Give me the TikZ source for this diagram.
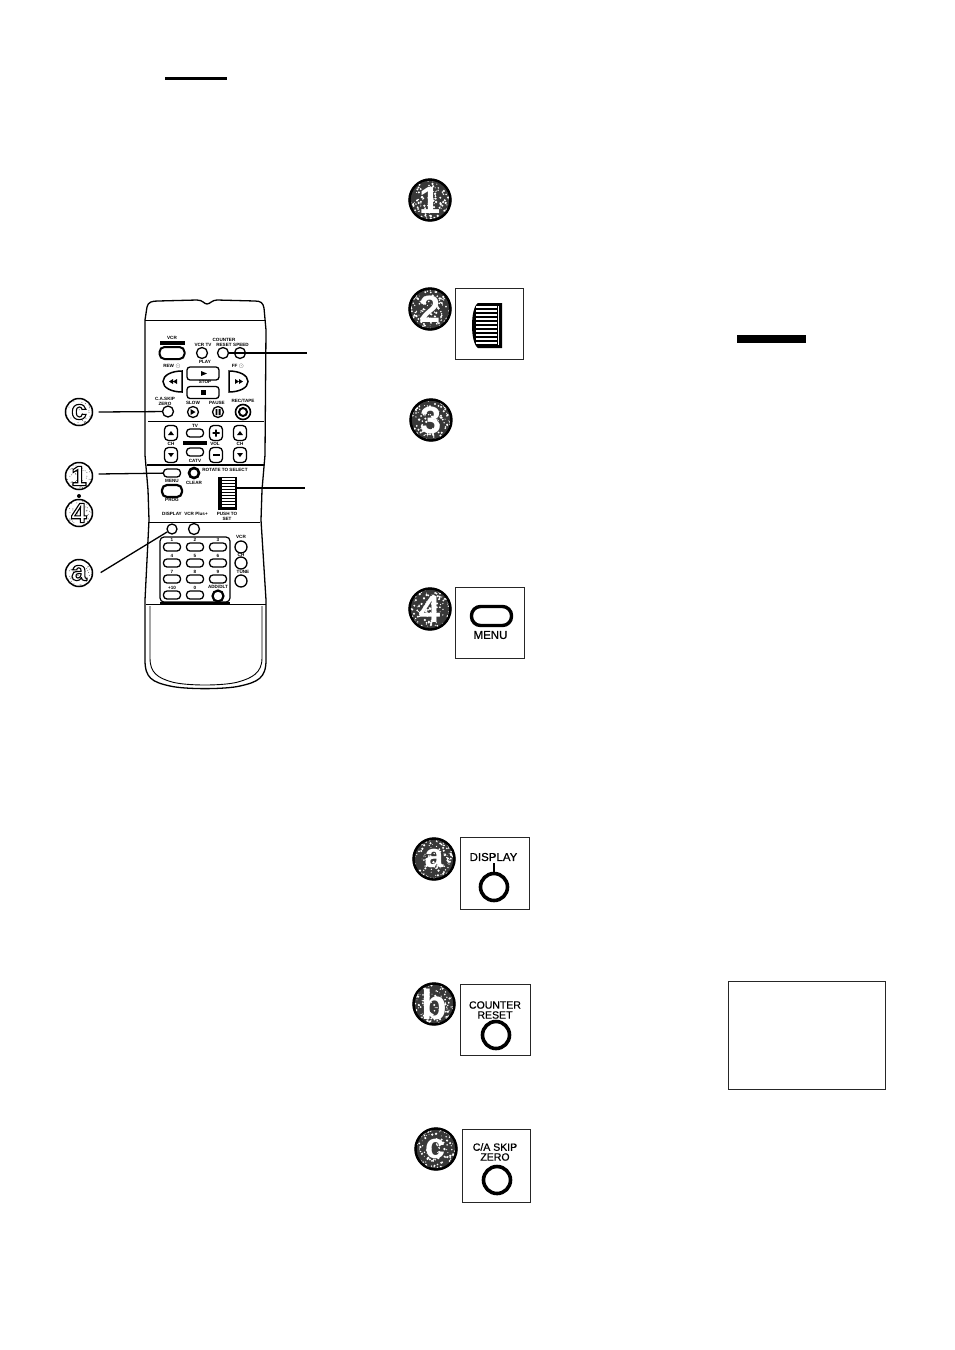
\documentclass[tikz,border=0pt]{standalone}
\usepackage{fontspec}
\setmainfont{Liberation Sans}
\newfontfamily\boxfont[FakeBold=0.7]{Liberation Sans}
\usetikzlibrary{calc}
\tikzset{
	roundbtn/.style={draw, circle, line width=1.3pt, inner sep=0pt, minimum size=11pt, fill=white},
	pillbtn/.style={draw, rectangle, rounded corners=3.5pt, line width=1.3pt, inner sep=0pt, minimum width=17pt, minimum height=8pt, fill=white},
	shieldbtn/.style={draw, rectangle, rounded corners=4pt, line width=1.3pt, inner sep=0pt, minimum width=13pt, minimum height=15pt, fill=white},
	tinylabel/.style={inner sep=0pt, font=\fontsize{4.6}{5}\selectfont\bfseries},
	boxlabel/.style={inner sep=0pt, font=\boxfont\fontsize{10.5}{10}\selectfont, align=center},
	panelbox/.style={draw=black!85, line width=1pt},
	bigring/.style={draw, circle, line width=3.6pt, inner sep=0pt, minimum size=27pt},
	pointer/.style={line width=1.3pt}
}
\def\outlined#1{\special{pdf:code q 2 Tr 1.1 w 0 G 1 g}#1\special{pdf:code Q}}
\def\darkbadge(#1,#2)#3#4{
	\begin{scope}
		\clip (#1,#2) circle (21.5);
		\fill[black!78] (#1,#2) circle (21.5);
		\foreach \i in {1,...,170} \fill[white] ({#1+43*rnd-21.5},{#2+43*rnd-21.5}) circle ({0.4+0.9*rnd});
	\end{scope}
	\draw[line width=2.4pt] (#1,#2) circle (20.5);
	\node[inner sep=0pt, text=white, font=\fontsize{#4}{#4}\selectfont\bfseries] at (#1,#2) {#3};
}
\def\lightbadge(#1,#2)#3{
	\fill[white] (#1,#2) circle (13.5);
	\begin{scope}
		\clip (#1,#2) circle (13.5);
		\foreach \i in {1,...,60} \fill[black!60] ({#1+27*rnd-13.5},{#2+27*rnd-13.5}) circle (0.5);
	\end{scope}
	\draw[line width=1.5pt] (#1,#2) circle (13.5);
	\node[inner sep=0pt, font=\fontsize{28}{28}\selectfont\bfseries] at (#1,#2) {\outlined{#3}};
}
\begin{document}
\begin{tikzpicture}[x=1pt,y=-1pt]
	%%%%% START %%%%%
	\useasboundingbox (0,0) rectangle (954,1350);
	\pgfmathsetseed{4711}

	\fill (165,77) rectangle (227,79.5);
	\fill (737,335) rectangle (806,343);
	\draw[panelbox] (728.5,981.5) rectangle (885.5,1089.5);

	% remote body
	\draw[line width=1.3pt] (145,320) -- (147,307) .. controls (148,302) and (152,301) .. (158,301) -- (197,300) .. controls (203,300) and (204,304) .. (207,304) .. controls (210,304) and (212,300) .. (217,300) -- (255,301) .. controls (261,301) and (263,303) .. (264,308) -- (266,330) -- (265,455) -- (262,490) -- (261,520) -- (266,600) -- (266,660) .. controls (266,678) and (258,682) .. (240,686) .. controls (225,689.5) and (185,689.5) .. (170,686) .. controls (152,682) and (145,678) .. (145,660) -- (145,600) -- (149,520) -- (148,490) -- (145,455) -- cycle;
	\draw[line width=0.9pt] (150,606) -- (150,658) .. controls (150,673) and (158,678) .. (172,682) .. controls (187,686) and (223,686) .. (238,682) .. controls (252,678) and (262,673) .. (262,658) -- (262,606);
	\draw[line width=0.8pt] (145,320) -- (266,320);
	\draw[line width=1.8pt] (148,421.5) -- (264,421.5);
	\draw[line width=1.3pt] (147,465) -- (264,465);
	\draw[line width=1pt] (149,522) -- (260,522);
	\draw[line width=0.9pt] (146,604) -- (266,604);
	\draw[line width=2pt] (160,603) -- (230,603);

	% top section
	\node[tinylabel] (vcrlabel) at (172,338) {VCR};
	\fill (160,341) rectangle (185,344.5);
	\node[pillbtn, minimum width=25pt, minimum height=12pt, rounded corners=5pt, line width=2pt] (vcrbtn) at (172,353) {};
	\node[tinylabel] (vcrtvlabel) at (203,345) {VCR TV};
	\node[tinylabel] (counterlabel) at (224,340) {COUNTER};
	\node[tinylabel] (resetlabel) at (224,345) {RESET};
	\node[tinylabel] (speedlabel) at (241,345) {SPEED};
	\node[roundbtn] (vcrtvbtn) at (202,353) {};
	\node[roundbtn] (resetbtn) at (223,353) {};
	\node[roundbtn] (speedbtn) at (240,353) {};
	\node[tinylabel] (playlabel) at (205,362) {PLAY};
	\node[pillbtn, minimum width=32pt, minimum height=13pt, rounded corners=3pt] (playbtn) at (203,373.5) {};
	\node[tinylabel] (stoplabel) at (205,382) {STOP};
	\node[pillbtn, minimum width=32pt, minimum height=12pt, rounded corners=3pt] (stopbtn) at (203,392.5) {};
	\fill (201,371) -- (207,373.5) -- (201,376) -- cycle;
	\fill (201,390) rectangle (206,395);
	\node[tinylabel] (rewlabel) at (172,366.5) {REW $\odot$};
	\node[tinylabel] (fflabel) at (238,366.5) {FF $\odot$};
	\draw[line width=1.5pt] (182,371) .. controls (172,371) and (163,375) .. (163,381.5) .. controls (163,388) and (172,392) .. (182,392) -- cycle;
	\draw[line width=1.5pt] (229,371) .. controls (239,371) and (248,375) .. (248,381.5) .. controls (248,388) and (239,392) .. (229,392) -- cycle;
	\fill (169,381.5) -- (173,379) -- (173,384) -- cycle (173,381.5) -- (177,379) -- (177,384) -- cycle;
	\fill (235,379) -- (239,381.5) -- (235,384) -- cycle (239,379) -- (243,381.5) -- (239,384) -- cycle;

	\node[tinylabel] (skiplabel) at (165,399) {C.A.SKIP};
	\node[tinylabel] (zerolabel) at (165,403.5) {ZERO};
	\node[tinylabel] (slowlabel) at (193,403) {SLOW};
	\node[tinylabel] (pauselabel) at (217,403) {PAUSE};
	\node[tinylabel] (reclabel) at (243,401) {REC/TAPE};
	\node[roundbtn] (skipbtn) at (168,411.5) {};
	\node[roundbtn] (slowbtn) at (193,412) {};
	\node[roundbtn] (pausebtn) at (218,412) {};
	\node[roundbtn, minimum size=15pt, line width=1.6pt] (recbtn) at (243,412) {};
	\draw[line width=2pt] (recbtn) circle (4);
	\fill (190.5,409) -- (195.5,412) -- (190.5,415) -- cycle;
	\fill (215.5,409) rectangle (217.3,415) (218.7,409) rectangle (220.5,415);

	% tv section
	\node[tinylabel] (tvlabel) at (195,426) {TV};
	\node[shieldbtn] (chupa) at (171,433) {};
	\node[pillbtn] (tvbtn) at (195,433) {};
	\node[shieldbtn] (volup) at (216,433) {};
	\node[shieldbtn] (chupb) at (240,433) {};
	\node[tinylabel] (chlabela) at (171,444) {CH};
	\node[tinylabel] (vollabel) at (215,444) {VOL};
	\node[tinylabel] (chlabelb) at (240,444) {CH};
	\fill (183,441) rectangle (207,445);
	\node[shieldbtn] (chdowna) at (171,455) {};
	\node[pillbtn] (catvbtn) at (195,452) {};
	\node[shieldbtn] (voldown) at (216,455) {};
	\node[shieldbtn] (chdownb) at (240,455) {};
	\node[tinylabel] (catvlabel) at (195,461) {CATV};
	\foreach \xa in {171,240} {
		\fill ({\xa-3},435) -- ({\xa+3},435) -- (\xa,431) -- cycle;
		\fill ({\xa-3},453) -- ({\xa+3},453) -- (\xa,457) -- cycle;
	}
	\fill (212.5,432.2) rectangle (219.5,433.8) (215.2,429.5) rectangle (216.8,436.5);
	\fill (212.5,454.2) rectangle (219.5,455.8);

	% menu section
	\node[pillbtn] (menubtn) at (172,473) {};
	\node[tinylabel] (menulabel) at (172,481) {MENU};
	\node[pillbtn, minimum width=20pt, minimum height=12pt, rounded corners=5pt, line width=2.2pt] (progbtn) at (172,491) {};
	\node[tinylabel] (proglabel) at (172,500) {PROG};
	\node[roundbtn, minimum size=10pt, line width=2.6pt] (clearbtn) at (194,473) {};
	\node[tinylabel] (clearlabel) at (194,483) {CLEAR};
	\node[tinylabel] (rotatelabel) at (225,470) {ROTATE TO SELECT};
	\fill (218,477) rectangle (237,510);
	\foreach \ya in {479,482,...,508} \draw[white, line width=1.3pt] (222,\ya) -- (235,\ya);
	\coordinate (wheel) at (235,488);
	\node[tinylabel] (pushlabel) at (227,514) {PUSH TO};
	\node[tinylabel] (setlabel) at (227,519) {SET};

	% keypad section
	\node[tinylabel] (displaylabel) at (172,514) {DISPLAY};
	\node[tinylabel] (vcrpluslabel) at (196,514) {VCR Plus+};
	\node[roundbtn, minimum size=10pt] (displaybtn) at (172,529) {};
	\node[roundbtn] (vcrplusbtn) at (194,529) {};
	\draw[line width=1.2pt, rounded corners=4pt] (160,537) rectangle (230,602);
	\foreach \xa/\ya/\numkey in {172/547/1,195/547/2,218/547/3,172/563/4,195/563/5,218/563/6,172/579/7,195/579/8,218/579/9,172/595/+10,195/595/0} {
		\node[pillbtn] at (\xa,\ya) {};
		\node[tinylabel] at (\xa,{\ya-7}) {\numkey};
	}
	\node[tinylabel] (addlabel) at (218,587) {ADD/DLT};
	\node[roundbtn, line width=2.2pt] (addbtn) at (218,596) {};
	\node[tinylabel] (vcr2label) at (241,537) {VCR};
	\node[roundbtn, minimum size=12pt] (vcr2up) at (241,547) {};
	\node[roundbtn, minimum size=12pt] (vcr2down) at (241,563) {};
	\node[tinylabel] (ch2label) at (241,555) {CH};
	\node[tinylabel] (tunelabel) at (243,572) {TUNE};
	\node[roundbtn, minimum size=12pt] (tunebtn) at (241,581) {};

	% callouts
	\lightbadge(79,412){c}
	\lightbadge(79,476){1}
	\lightbadge(79,513){4}
	\lightbadge(79,573){a}
	\fill (79,496) circle (2);
	\node[inner sep=0pt, minimum size=1pt] (calla) at (100,573) {};
	\node[inner sep=0pt, minimum size=1pt] (callc) at (98,412) {};
	\node[inner sep=0pt, minimum size=1pt] (callone) at (98,474) {};
	\coordinate (resetend) at (307,353);
	\coordinate (wheelend) at (305,488);
	\draw[pointer] (callc) -- (skipbtn);
	\draw[pointer] (callone) -- (menubtn);
	\draw[pointer] (calla) -- (displaybtn);
	\draw[pointer] (resetbtn) -- (resetend);
	\draw[pointer] (wheel) -- (wheelend);

	% steps
	\darkbadge(430,200){1}{38}
	\darkbadge(430,309){2}{38}
	\darkbadge(431,420){3}{38}
	\darkbadge(430,609){4}{38}
	\darkbadge(434,859){a}{34}
	\darkbadge(434,1004){b}{42}
	\darkbadge(436,1149){c}{36}

	\draw[panelbox] (455,288) rectangle (523,359);
	\fill (478,303) .. controls (470,308) and (470,343) .. (478,348) -- (502,348) -- (502,303) -- cycle;
	\foreach \ya in {307,311,...,344} \draw[white, line width=1.2pt] (476,\ya) -- (497,\ya);
	\fill[white] (497.5,306) rectangle (499,345);

	\draw[panelbox] (455,587) rectangle (524,658);
	\node[pillbtn, minimum width=40pt, minimum height=19pt, rounded corners=9pt, line width=3.4pt] (menubig) at (491.5,616) {};
	\node[boxlabel, font=\boxfont\fontsize{11.5}{10}\selectfont] (menutext) at (490.5,635) {MENU};

	\draw[panelbox] (460,837) rectangle (529,909);
	\node[boxlabel, font=\boxfont\fontsize{11.5}{10}\selectfont] (displaytext) at (493.5,857) {DISPLAY};
	\node[bigring] (displayring) at (494,887) {};
	\draw[line width=2.5pt] (displayring.north) -- ++(0,-9);

	\draw[panelbox] (460,984) rectangle (530,1055);
	\node[boxlabel] (countertext) at (495,1005) {COUNTER};
	\node[boxlabel] (resettext) at (495,1015) {RESET};
	\node[bigring] (resetring) at (496,1035) {};

	\draw[panelbox] (462,1129) rectangle (530,1202);
	\node[boxlabel] (skiptext) at (495,1147) {C/A SKIP};
	\node[boxlabel] (zerotext) at (495,1157) {ZERO};
	\node[bigring] (zeroring) at (497,1180) {};
	%%%%% END %%%%%
\end{tikzpicture}
\end{document}
